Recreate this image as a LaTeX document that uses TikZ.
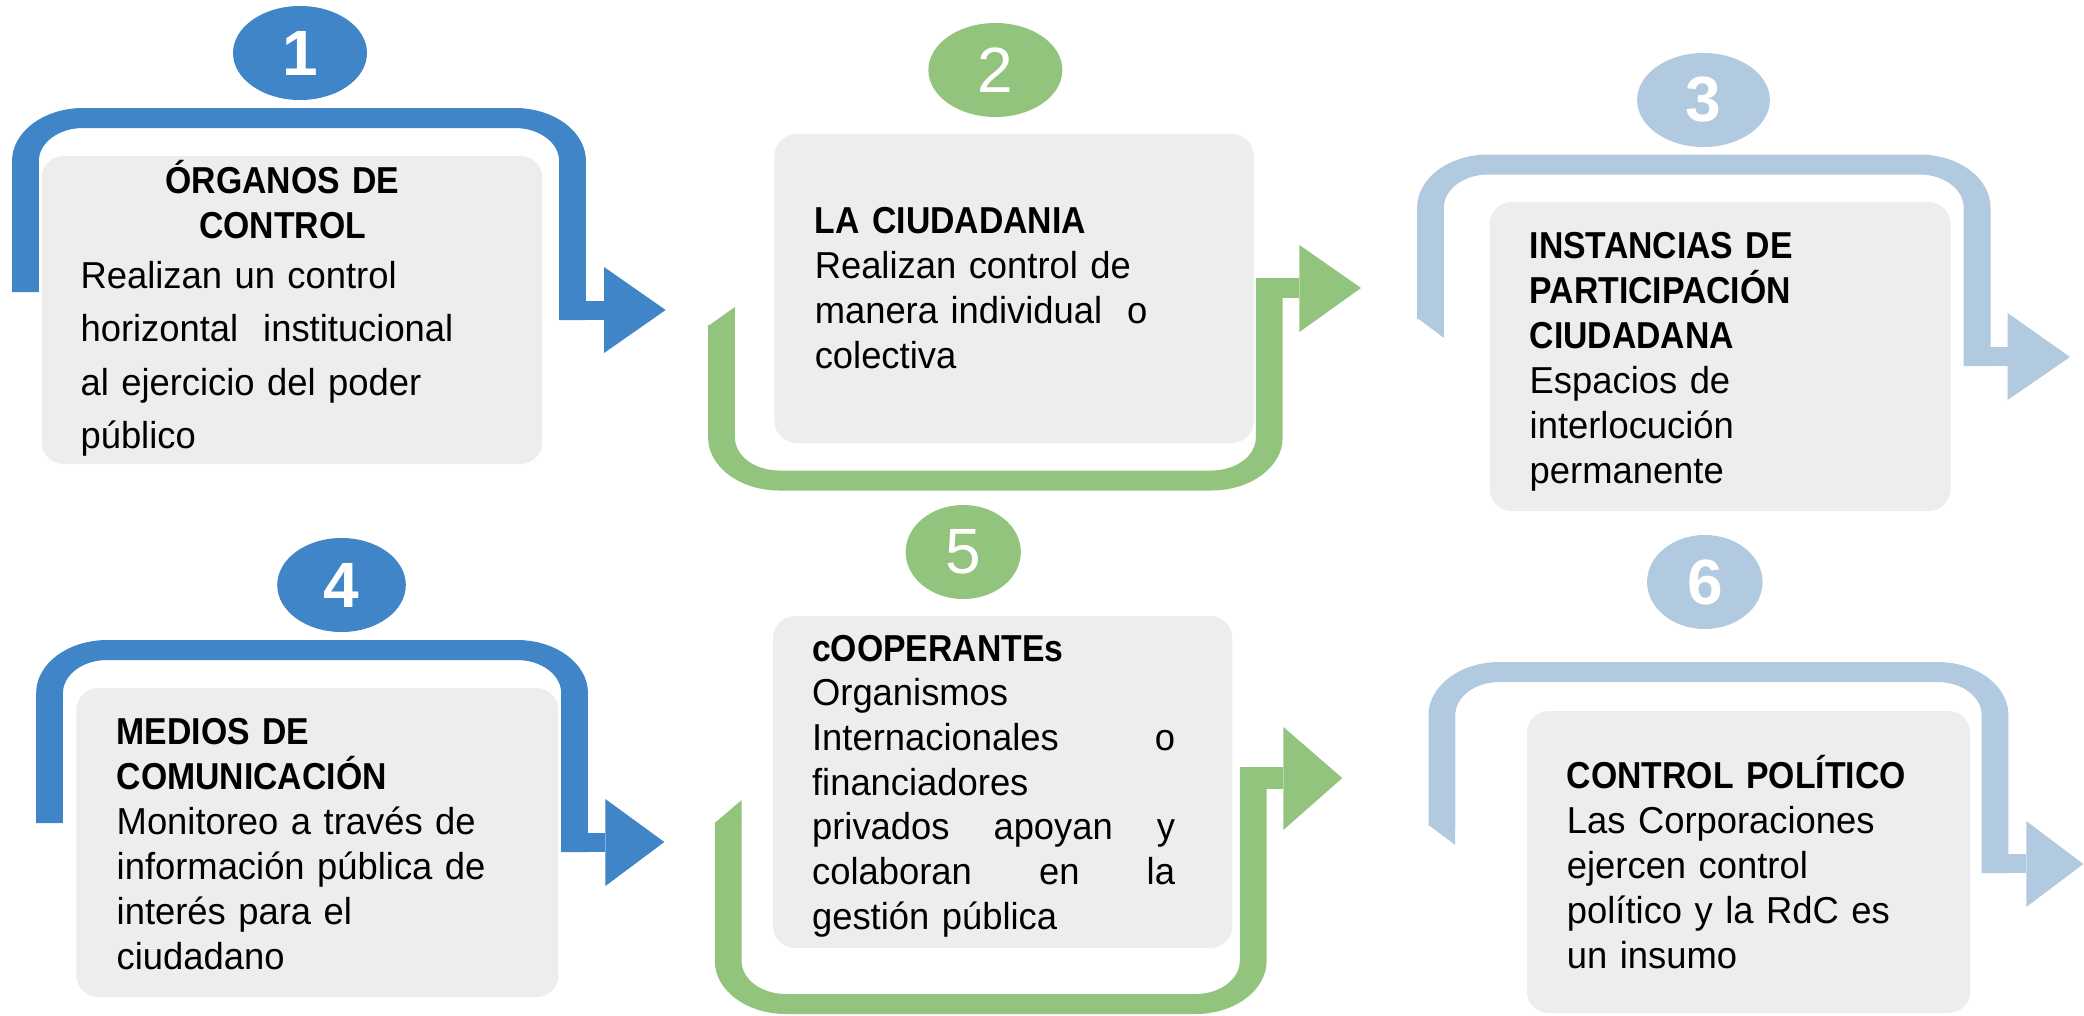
\documentclass[tikz,border=0pt]{standalone}
\usepackage{fontspec}
\setmainfont[UprightFeatures={FakeStretch=0.97},BoldFeatures={FakeStretch=0.9}]{Liberation Sans}
\newfontfamily\numfont{Liberation Sans}
\usetikzlibrary{shapes.geometric}
\definecolor{cblue}{HTML}{3F85C7}
\definecolor{cgreen}{HTML}{93C47D}
\definecolor{clight}{HTML}{B1CADF}
\definecolor{cbox}{HTML}{EDEDED}
\tikzset{
  band/.style={line width=20pt, rounded corners=43pt, line cap=butt},
  shaft/.style={line width=19pt, line cap=butt},
  wide/.style={x=1pt, transform canvas={xscale=1.3393}},
  card/.style={rectangle, fill=cbox, rounded corners=22pt, inner sep=0pt},
  badge/.style={ellipse, inner sep=0pt, minimum height=94pt, text=white,
    font=\numfont\fontsize{64}{64}\selectfont},
  txt/.style={anchor=base west, inner sep=0pt, align=left, text width=#1,
    font=\fontsize{37.5}{45}\selectfont},
  txt/.default=420pt
}
\begin{document}
\begin{tikzpicture}[x=1.3393pt,y=-1pt]
\useasboundingbox (0,0) rectangle (1556.03,1015);
% ---------- bands (drawn in a horizontally stretched canvas) ----------
\begin{scope}[wide]
% 1
\draw[band, cblue] (19,292) -- (19,118) -- (427.5,118) -- (427.5,320);
\draw[shaft, cblue] (417.5,310) -- (451,310);
\fill[cblue] (451,267) -- (497,310) -- (451,353) -- cycle;
% 2
\draw[band, cgreen] (538.7,325) -- (538.7,480.5) -- (947.7,480.5) -- (947.7,278);
\fill[cgreen] (528.7,326) -- (548.7,326) -- (548.7,307) -- cycle;
\draw[shaft, line width=20pt, cgreen] (937.7,288) -- (970.2,288);
\fill[cgreen] (970.2,245) -- (1016.2,288) -- (970.2,332) -- cycle;
% 3
\draw[band, clight] (1068.1,319) -- (1068.1,164.5) -- (1476.2,164.5) -- (1476.2,366);
\fill[clight] (1058.2,318) -- (1078.1,318) -- (1078.1,338) -- cycle;
\draw[shaft, clight] (1466.3,356.5) -- (1499,356.5);
\fill[clight] (1499,313) -- (1545.6,357) -- (1499,400) -- cycle;
% 4
\draw[band, cblue] (37,823) -- (37,650) -- (429,650) -- (429,852);
\draw[shaft, cblue] (419,842) -- (452,842);
\fill[cblue] (452,799) -- (496,842) -- (452,886) -- cycle;
% 5
\draw[band, cgreen] (543.7,822) -- (543.7,1004) -- (935.7,1004) -- (935.7,767);
\fill[cgreen] (533.7,823) -- (553.7,823) -- (553.7,800) -- cycle;
\draw[shaft, line width=22pt, cgreen] (925.7,778) -- (958.2,778);
\fill[cgreen] (958.2,727) -- (1002.2,778) -- (958.2,830) -- cycle;
% 6
\draw[band, clight] (1076.6,826) -- (1076.6,672) -- (1489.6,672) -- (1489.6,873);
\fill[clight] (1066.7,825) -- (1086.5,825) -- (1086.5,845) -- cycle;
\draw[shaft, clight] (1479.7,863.5) -- (1512.9,863.5);
\fill[clight] (1512.9,821) -- (1555.5,864) -- (1512.9,907) -- cycle;
\end{scope}
% ---------- cards ----------
\node[card, minimum width=500.9pt, minimum height=308pt] (c1) at (218,310) {};
\node[card, minimum width=479.5pt, minimum height=309pt] (c2) at (757.2,288.5) {};
\node[card, minimum width=460.9pt, minimum height=309pt] (c3) at (1284.35,356.5) {};
\node[card, minimum width=482.1pt, minimum height=309pt] (c4) at (237,842.5) {};
\node[card, minimum width=459.4pt, minimum height=332pt] (c5) at (748.7,782) {};
\node[card, minimum width=443.6pt, minimum height=302pt] (c6) at (1305.6,862) {};
% ---------- badges ----------
\node[badge, minimum width=134pt, fill=cblue] (n1) at (224,53) {\bfseries 1};
\node[badge, minimum width=134pt, fill=cgreen] (n2) at (743.2,70) {2};
\node[badge, minimum width=132.8pt, fill=clight] (n3) at (1271.9,100) {\bfseries 3};
\node[badge, minimum width=128.6pt, fill=cblue] (n4) at (255,585) {\bfseries 4};
\node[badge, minimum width=115.2pt, fill=cgreen] (n5) at (719.2,552) {5};
\node[badge, minimum width=115.5pt, fill=clight] (n6) at (1272.9,582) {\bfseries 6};
% ---------- texts ----------
\node[txt=400pt, align=center, anchor=base] (t1h) at (211,193)
  {\textbf{ÓRGANOS DE}\\\textbf{CONTROL}};
\node[txt, font=\fontsize{37.5}{53.5}\selectfont] (t1b) at (60,288)
  {Realizan un control\\horizontal\ \ institucional\\al ejercicio del poder\\público};
\node[txt] (t2) at (608.2,233)
  {\textbf{LA CIUDADANIA}\\Realizan control de\\manera individual\ \ o\\colectiva};
\node[txt] (t3) at (1142.0,258)
  {\textbf{INSTANCIAS DE}\\\textbf{PARTICIPACIÓN}\\\textbf{CIUDADANA}\\Espacios de\\interlocución\\permanente};
\node[txt] (t4) at (87,744)
  {\textbf{MEDIOS DE}\\\textbf{COMUNICACIÓN}\\Monitoreo a través de\\información pública de\\interés para el\\ciudadano};
\node[txt=363pt, font=\fontsize{37.5}{44.7}\selectfont] (t5) at (606.2,661)
  {\textbf{cOOPERANTEs}\\Organismos\\Internacionales\hfill o\\financiadores\\privados\hfill apoyan\hfill y\\colaboran\hfill en\hfill la\\gestión pública};
\node[txt] (t6) at (1169.8,788)
  {\textbf{CONTROL POLÍTICO}\\Las Corporaciones\\ejercen control\\político y la RdC es\\un insumo};
\end{tikzpicture}
\end{document}
